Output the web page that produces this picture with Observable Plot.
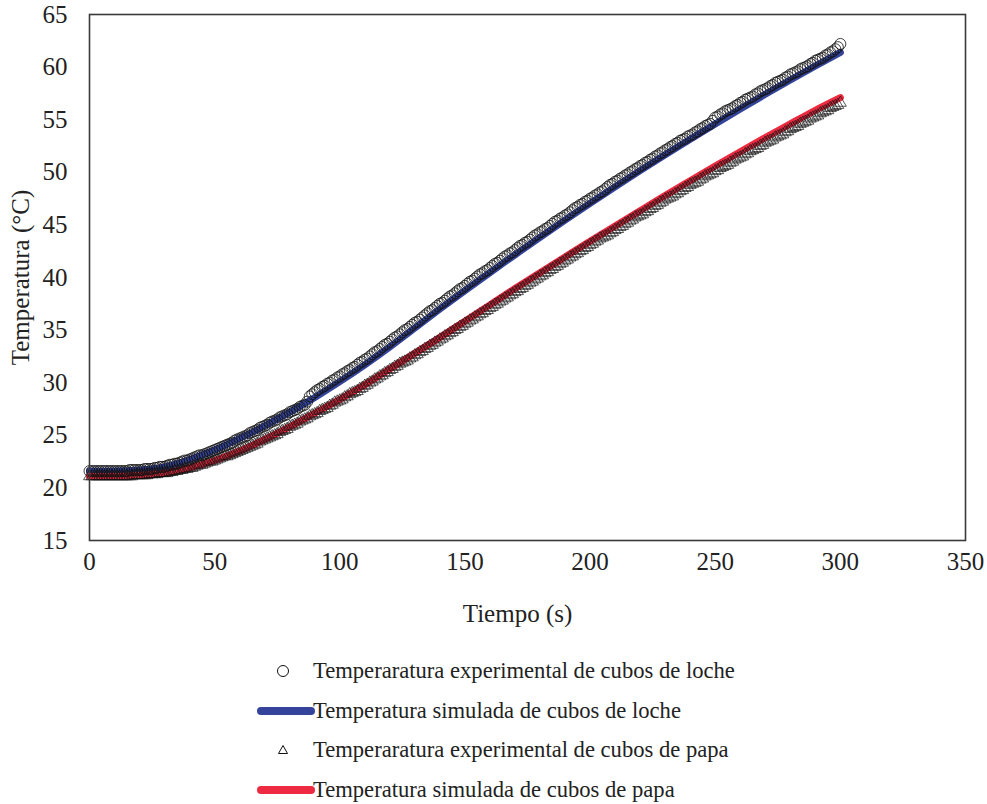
<!DOCTYPE html>
<html>
<head>
<meta charset="utf-8">
<script src="https://cdn.jsdelivr.net/npm/d3@7"></script>
<script src="https://cdn.jsdelivr.net/npm/@observablehq/plot@0.6"></script>
<style>
  html, body { margin: 0; padding: 0; background: #fff; }
  #wrap { position: relative; width: 987px; height: 804px; font-family: "Liberation Serif", "Times New Roman", serif; color: #222; }
  #legend { position: absolute; left: 0; top: 0; width: 987px; height: 804px; pointer-events: none; }
  .row { position: absolute; left: 0; height: 30px; font-size: 22.6px; }
  .key { position: absolute; left: 250px; top: 0; width: 66px; height: 30px; }
  .lab { position: absolute; left: 313px; top: 0; white-space: nowrap; line-height: 30px; }
</style>
</head>
<body>
<div id="wrap"><div id="chart"></div><div id="legend"></div></div>
<script>
// Axis ticks and titles
const xTicks = [0, 50, 100, 150, 200, 250, 300, 350];
const yTicks = [15, 20, 25, 30, 35, 40, 45, 50, 55, 60, 65];
const xTitle = "Tiempo (s)";
const yTitle = "Temperatura (°C)";

// Simulated temperatures (every 10 s)
const simTime = [0, 10, 20, 30, 40, 50, 60, 70, 80, 90, 100, 110, 120, 130, 140, 150,
  160, 170, 180, 190, 200, 210, 220, 230, 240, 250, 260, 270, 280, 290, 300];
const simLoche = [21.6, 21.6, 21.7, 22.0, 22.7, 23.6, 24.7, 25.9, 27.2, 28.6, 30.1, 31.7,
  33.4, 35.2, 37.0, 38.75, 40.47, 42.16, 43.82, 45.45, 47.05, 48.62, 50.16, 51.67, 53.15,
  54.6, 56.02, 57.41, 58.77, 60.1, 61.4];
const simPapa = [21.1, 21.1, 21.2, 21.4, 21.9, 22.6, 23.5, 24.6, 25.8, 27.1, 28.4, 29.8,
  31.3, 32.8, 34.3, 35.85, 37.4, 38.95, 40.45, 41.95, 43.45, 44.9, 46.35, 47.8, 49.2,
  50.6, 51.95, 53.3, 54.6, 55.9, 57.1];

// Measured temperatures, one reading per second (0–300 s); ten readings per line
const expTime = d3.range(0, 301);
const expLoche = [
  21.6, 21.6, 21.6, 21.6, 21.6, 21.6, 21.6, 21.6, 21.6, 21.6,
  21.6, 21.6, 21.6, 21.6, 21.6, 21.6, 21.7, 21.7, 21.7, 21.7,
  21.7, 21.7, 21.8, 21.8, 21.8, 21.8, 21.9, 21.9, 22.0, 22.0,
  22.0, 22.1, 22.2, 22.2, 22.3, 22.3, 22.4, 22.5, 22.6, 22.6,
  22.7, 22.8, 22.9, 23.0, 23.1, 23.1, 23.2, 23.3, 23.4, 23.5,
  23.6, 23.7, 23.8, 23.9, 24.0, 24.1, 24.2, 24.3, 24.5, 24.6,
  24.7, 24.8, 24.9, 25.0, 25.2, 25.3, 25.4, 25.5, 25.7, 25.8,
  25.9, 26.0, 26.2, 26.3, 26.4, 26.5, 26.7, 26.8, 26.9, 27.0,
  27.2, 27.3, 27.4, 27.5, 27.7, 27.8, 27.9, 28.2, 28.7, 28.9,
  29.1, 29.3, 29.4, 29.6, 29.7, 29.9, 30.0, 30.2, 30.3, 30.5,
  30.6, 30.8, 30.9, 31.1, 31.2, 31.4, 31.5, 31.7, 31.9, 32.0,
  32.2, 32.3, 32.5, 32.7, 32.9, 33.0, 33.2, 33.4, 33.6, 33.7,
  33.9, 34.1, 34.3, 34.4, 34.6, 34.8, 35.0, 35.1, 35.3, 35.5,
  35.7, 35.8, 36.0, 36.2, 36.4, 36.6, 36.8, 36.9, 37.1, 37.3,
  37.5, 37.6, 37.8, 38.0, 38.2, 38.3, 38.5, 38.7, 38.9, 39.0,
  39.2, 39.4, 39.6, 39.7, 39.9, 40.1, 40.3, 40.4, 40.6, 40.7,
  40.9, 41.1, 41.3, 41.4, 41.6, 41.8, 42.0, 42.1, 42.3, 42.4,
  42.6, 42.8, 43.0, 43.1, 43.3, 43.4, 43.6, 43.8, 44.0, 44.1,
  44.3, 44.4, 44.6, 44.7, 44.9, 45.1, 45.3, 45.4, 45.6, 45.7,
  45.9, 46.0, 46.2, 46.4, 46.6, 46.7, 46.9, 47.0, 47.2, 47.3,
  47.5, 47.6, 47.8, 47.9, 48.1, 48.2, 48.4, 48.6, 48.8, 48.9,
  49.1, 49.2, 49.4, 49.5, 49.7, 49.8, 50.0, 50.1, 50.3, 50.4,
  50.6, 50.7, 50.9, 51.0, 51.2, 51.3, 51.5, 51.6, 51.8, 51.9,
  52.1, 52.2, 52.4, 52.5, 52.7, 52.8, 53.0, 53.1, 53.2, 53.4,
  53.5, 53.6, 53.8, 53.9, 54.1, 54.2, 54.4, 54.5, 54.6, 54.9,
  55.2, 55.3, 55.5, 55.6, 55.8, 55.9, 56.0, 56.1, 56.3, 56.4,
  56.6, 56.7, 56.9, 57.0, 57.1, 57.2, 57.4, 57.5, 57.7, 57.8,
  57.9, 58.0, 58.2, 58.3, 58.5, 58.6, 58.7, 58.8, 59.0, 59.1,
  59.3, 59.4, 59.5, 59.6, 59.8, 59.9, 60.0, 60.1, 60.3, 60.4,
  60.6, 60.7, 60.8, 60.9, 61.1, 61.2, 61.4, 61.5, 61.7, 61.9,
  62.2];
const expPapa = [
  21.1, 21.1, 21.1, 21.1, 21.1, 21.1, 21.1, 21.1, 21.1, 21.1,
  21.1, 21.1, 21.1, 21.1, 21.1, 21.1, 21.1, 21.1, 21.2, 21.2,
  21.2, 21.2, 21.2, 21.2, 21.3, 21.3, 21.3, 21.3, 21.4, 21.4,
  21.4, 21.4, 21.5, 21.5, 21.6, 21.6, 21.7, 21.7, 21.8, 21.8,
  21.9, 21.9, 22.0, 22.1, 22.2, 22.2, 22.3, 22.4, 22.5, 22.5,
  22.6, 22.7, 22.8, 22.9, 23.0, 23.0, 23.1, 23.2, 23.3, 23.4,
  23.5, 23.6, 23.7, 23.8, 23.9, 24.0, 24.1, 24.2, 24.4, 24.5,
  24.6, 24.7, 24.8, 24.9, 25.0, 25.1, 25.3, 25.4, 25.5, 25.6,
  25.8, 25.9, 26.0, 26.1, 26.3, 26.4, 26.5, 26.6, 26.8, 26.9,
  27.0, 27.1, 27.3, 27.4, 27.5, 27.6, 27.8, 27.9, 28.1, 28.2,
  28.3, 28.4, 28.6, 28.7, 28.9, 29.0, 29.1, 29.2, 29.4, 29.5,
  29.7, 29.8, 30.0, 30.1, 30.3, 30.4, 30.6, 30.7, 30.9, 31.0,
  31.2, 31.3, 31.5, 31.6, 31.8, 31.9, 32.0, 32.1, 32.3, 32.4,
  32.6, 32.7, 32.9, 33.0, 33.2, 33.3, 33.5, 33.6, 33.8, 33.9,
  34.1, 34.2, 34.4, 34.5, 34.7, 34.8, 35.0, 35.1, 35.3, 35.4,
  35.6, 35.7, 35.9, 36.0, 36.2, 36.3, 36.5, 36.6, 36.8, 36.9,
  37.1, 37.2, 37.4, 37.5, 37.7, 37.8, 38.0, 38.1, 38.3, 38.4,
  38.6, 38.7, 38.9, 39.0, 39.2, 39.3, 39.5, 39.6, 39.8, 39.9,
  40.1, 40.2, 40.4, 40.5, 40.7, 40.8, 41.0, 41.1, 41.3, 41.4,
  41.6, 41.7, 41.9, 42.0, 42.2, 42.3, 42.5, 42.6, 42.8, 42.9,
  43.1, 43.2, 43.4, 43.5, 43.7, 43.8, 43.9, 44.0, 44.2, 44.3,
  44.5, 44.6, 44.8, 44.9, 45.1, 45.2, 45.4, 45.5, 45.7, 45.8,
  45.9, 46.0, 46.2, 46.3, 46.5, 46.6, 46.8, 46.9, 47.1, 47.2,
  47.4, 47.5, 47.6, 47.7, 47.9, 48.0, 48.2, 48.3, 48.5, 48.6,
  48.8, 48.9, 49.0, 49.1, 49.3, 49.4, 49.6, 49.7, 49.8, 49.9,
  50.1, 50.2, 50.4, 50.5, 50.6, 50.7, 50.9, 51.0, 51.2, 51.3,
  51.4, 51.5, 51.7, 51.8, 52.0, 52.1, 52.2, 52.3, 52.5, 52.6,
  52.8, 52.9, 53.0, 53.1, 53.3, 53.4, 53.5, 53.6, 53.8, 53.9,
  54.1, 54.2, 54.3, 54.4, 54.6, 54.7, 54.8, 54.9, 55.1, 55.2,
  55.3, 55.4, 55.6, 55.7, 55.8, 55.9, 56.1, 56.2, 56.3, 56.4,
  56.6];

const seriesNames = [
  "Temperaratura experimental de cubos de loche",
  "Temperatura simulada de cubos de loche",
  "Temperaratura experimental de cubos de papa",
  "Temperatura simulada de cubos de papa"
];

const blue = "#35449b";
const red = "#ee2a40";

const simLocheData = simTime.map((t, i) => ({t, v: simLoche[i]}));
const simPapaData = simTime.map((t, i) => ({t, v: simPapa[i]}));
const expLocheData = expTime.map((t, i) => ({t, v: expLoche[i]}));
const expPapaData = expTime.map((t, i) => ({t, v: expPapa[i]}));

const chart = Plot.plot({
  width: 987,
  height: 640,
  marginLeft: 89,
  marginRight: 22,
  marginTop: 14,
  marginBottom: 100,
  style: {fontFamily: "'Liberation Serif', 'Times New Roman', serif", fontSize: "25px", color: "#222", background: "#fff"},
  x: {domain: [0, 350]},
  y: {domain: [15, 65]},
  marks: [
    Plot.line(simLocheData, {x: "t", y: "v", stroke: blue, strokeWidth: 7, curve: "natural", strokeLinecap: "round"}),
    Plot.line(simPapaData, {x: "t", y: "v", stroke: red, strokeWidth: 7, curve: "natural", strokeLinecap: "round"}),
    Plot.dot(expLocheData, {x: "t", y: "v", r: 5.5, symbol: "circle", stroke: "#111", strokeWidth: 0.8, fill: "none"}),
    Plot.dot(expPapaData, {x: "t", y: "v", r: 4.4, symbol: "triangle", stroke: "#111", strokeWidth: 0.7, fill: "none"}),
    Plot.frame({stroke: "#3a3a3a", strokeWidth: 1.6}),
    Plot.axisX({ticks: xTicks, tickSize: 0, tickPadding: 12, fontSize: 25, label: null}),
    Plot.text([xTitle], {frameAnchor: "bottom", text: d => d, dx: -10, dy: 73, lineAnchor: "middle", fontSize: 25, fill: "#222"}),
    Plot.axisY({ticks: yTicks, tickSize: 0, tickPadding: 22, fontSize: 25, label: yTitle, labelAnchor: "center", labelOffset: 78, labelArrow: "none"})
  ]
});
document.getElementById("chart").appendChild(chart);

// Legend below the plot
const legend = d3.select("#legend");
const rowCenters = [671, 711, 750, 790];
const keys = ["circle", "line", "triangle", "line"];
const keyColors = ["#111", blue, "#111", red];
seriesNames.forEach((name, i) => {
  const row = legend.append("div").attr("class", "row").style("top", (rowCenters[i] - 15) + "px").style("width", "987px");
  const svg = row.append("svg").attr("class", "key").attr("width", 66).attr("height", 30).attr("viewBox", "0 0 66 30");
  if (keys[i] === "line") {
    svg.append("line").attr("x1", 11).attr("x2", 61).attr("y1", 15).attr("y2", 15)
      .attr("stroke", keyColors[i]).attr("stroke-width", 8).attr("stroke-linecap", "round");
  } else if (keys[i] === "circle") {
    svg.append("circle").attr("cx", 33).attr("cy", 15).attr("r", 5.5).attr("fill", "none").attr("stroke", "#111").attr("stroke-width", 1);
  } else {
    svg.append("path").attr("d", "M33,10.5 L37.5,18.5 L28.5,18.5 Z").attr("fill", "none").attr("stroke", "#111").attr("stroke-width", 1);
  }
  row.append("div").attr("class", "lab").text(name);
});
</script>
</body>
</html>
